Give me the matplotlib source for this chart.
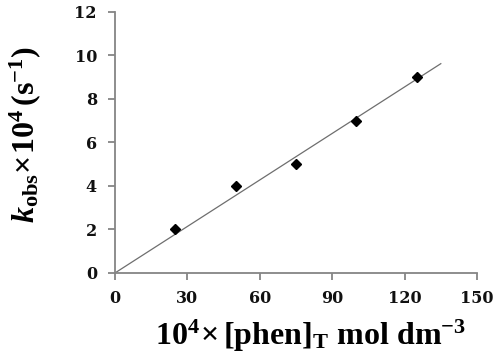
import matplotlib
matplotlib.use("Agg")
import matplotlib.pyplot as plt
import numpy as np

# data
phen_conc = np.array([25, 50, 75, 100, 125])   # 10^4 x [phen]_T
k_obs = np.array([2, 4, 5, 7, 9])              # k_obs x 10^4 (s^-1)
x_ticks = [0, 30, 60, 90, 120, 150]
y_ticks = [0, 2, 4, 6, 8, 10, 12]
fit_end = 135

plt.rcParams['mathtext.fontset'] = 'custom'
plt.rcParams['mathtext.rm'] = 'Liberation Serif:bold'
plt.rcParams['mathtext.bf'] = 'Liberation Serif:bold'
plt.rcParams['mathtext.it'] = 'Liberation Serif:italic:bold'

fig = plt.figure(figsize=(5, 3.62), dpi=100)
ax = fig.add_axes([0.23, 0.246, 0.724, 0.721])

# least-squares line through the origin
slope = np.sum(phen_conc * k_obs) / np.sum(phen_conc ** 2)
xf = np.array([0, fit_end])
ax.plot(xf, slope * xf, color='#6e6e6e', lw=0.9, zorder=2)
ax.plot(phen_conc, k_obs, 'D', color='black', ms=5, zorder=3)

ax.set_xlim(0, 150)
ax.set_ylim(0, 12)
ax.set_xticks(x_ticks)
ax.set_yticks(y_ticks)

for s in ['top', 'right']:
    ax.spines[s].set_visible(False)
for s in ['left', 'bottom']:
    ax.spines[s].set_color('#858585')
    ax.spines[s].set_linewidth(1.3)

ax.tick_params(direction='out', length=5, width=1.3, color='#858585')
ax.tick_params(axis='x', pad=7)
ax.tick_params(axis='y', pad=8)
for lab in ax.get_xticklabels() + ax.get_yticklabels():
    lab.set_fontfamily('DejaVu Serif')
    lab.set_fontweight('bold')
    lab.set_fontsize(11.5)
    lab.set_color('#111111')

ax.set_xlabel(r'$\mathrm{10^{4}\!\times\!\,[phen]_{T}\ mol\ dm^{-3}}$', fontsize=23)
ax.xaxis.set_label_coords(0.54, -0.17)
ax.set_ylabel(r'$\mathit{k}_{\mathrm{obs}}\!\times\!\mathrm{10^{4}\,(s^{-1})}$', fontsize=23)
ax.yaxis.set_label_coords(-0.2, 0.53)

fig.savefig('out.png', dpi=100)
